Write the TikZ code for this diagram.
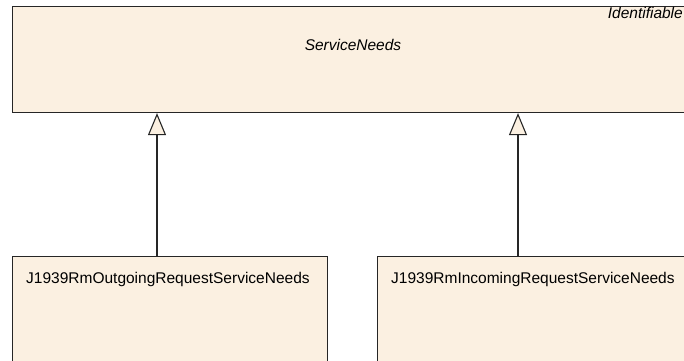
\documentclass[tikz,border=0pt]{standalone}
\usepackage{fontspec}
\setmainfont{Liberation Sans}
\usetikzlibrary{arrows.meta,positioning}
\definecolor{boxfill}{RGB}{251,240,225}

\begin{document}
\begin{tikzpicture}[x=1pt,y=-1pt,
    umlbox/.style={draw=black!85,fill=boxfill,line width=1.1pt,anchor=north west,inner sep=0pt},
    lbl/.style={font=\fontsize{15.5}{18}\selectfont,inner sep=0pt},
    gen/.style={-{Triangle[width=18pt,length=22pt,fill=boxfill]},line width=1.1pt,black!85}]
  \useasboundingbox (0,0) rectangle (684,360);
  \clip (0,0) rectangle (684,360);
  % classes
  \node[umlbox,minimum width=720pt,minimum height=106pt] (needs) at (12,6) {};
  \node[umlbox,minimum width=315pt,minimum height=150pt] (outgoing) at (12,256) {};
  \node[umlbox,minimum width=360pt,minimum height=150pt] (incoming) at (377,256) {};
  \node[lbl,font=\fontsize{15.5}{18}\itshape] (needsname) at (353,45) {ServiceNeeds};
  \node[lbl,font=\fontsize{15.5}{18}\itshape,anchor=east] (needsstereo) at (683,13) {Identifiable};
  \node[lbl,anchor=west] (outname) at (26,279) {J1939RmOutgoingRequestServiceNeeds};
  \node[lbl,anchor=west] (inname) at (391,279) {J1939RmIncomingRequestServiceNeeds};
  % generalizations
  \coordinate (outUp) at ([xshift=145pt]outgoing.north west);
  \coordinate (inUp) at ([xshift=141pt]incoming.north west);
  \draw[gen] (outUp) -- (outUp |- needs.south);
  \draw[gen] (inUp) -- (inUp |- needs.south);
\end{tikzpicture}
\end{document}
